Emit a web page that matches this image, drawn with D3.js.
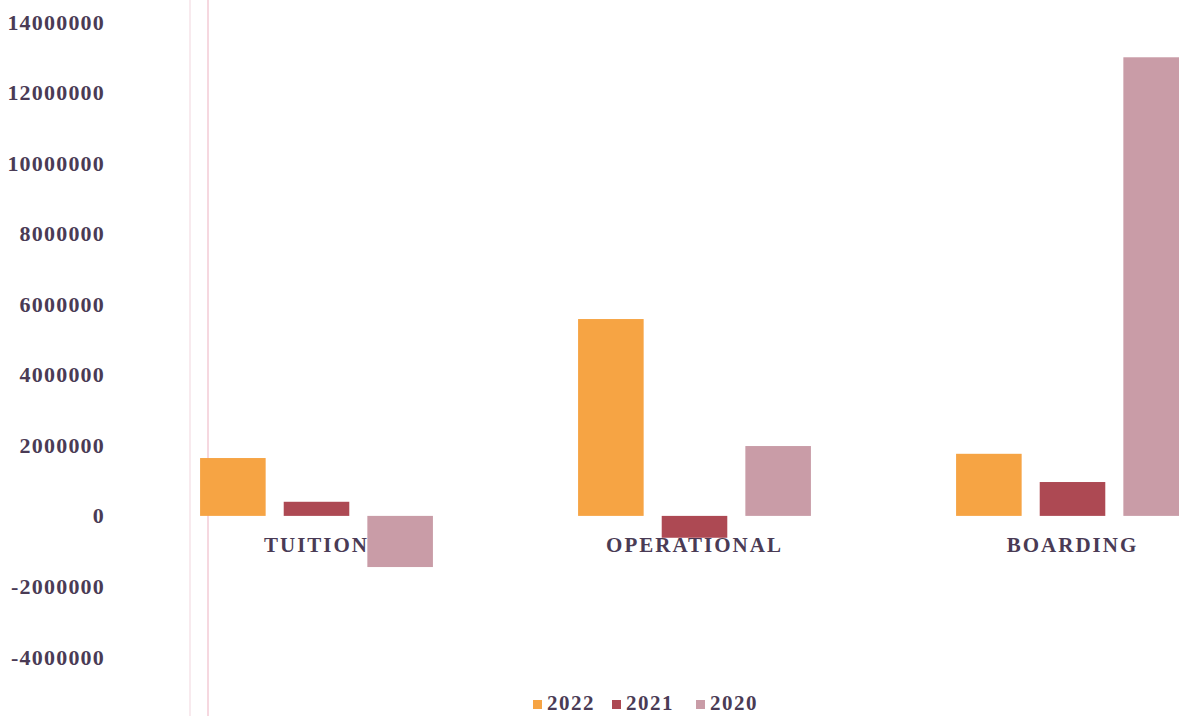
<!DOCTYPE html>
<html>
<head>
<meta charset="utf-8">
<script src="https://cdn.jsdelivr.net/npm/d3@7"></script>
<style>
  html, body { margin: 0; padding: 0; background: #fff; overflow: hidden; }
  svg { display: block; }
  .lbl { font-family: "Liberation Serif", "DejaVu Serif", serif; font-weight: bold; fill: #4a3b55; }
</style>
</head>
<body>
<svg width="1179" height="716"></svg>
<script>
"use strict";

// categories and series
const categories = ["TUITION", "OPERATIONAL", "BOARDING"];
const seriesNames = ["2022", "2021", "2020"];
const values2022 = [1640000, 5580000, 1760000];
const values2021 = [400000, -620000, 960000];
const values2020 = [-1450000, 1980000, 13000000];
const yTicks = [-4000000, -2000000, 0, 2000000, 4000000, 6000000, 8000000, 10000000, 12000000, 14000000];
const colors = ["#f6a444", "#ad4953", "#c99ca7"];

const seriesValues = [values2022, values2021, values2020];
const rows = categories.map((c, i) => ({
  cat: c,
  vals: seriesNames.map((s, j) => ({ key: s, value: seriesValues[j][i], color: colors[j] }))
}));

const svg = d3.select("svg");

// y: 0 at 516, 2M per ~70.57px
const y = d3.scaleLinear().domain([-4000000, 14000000]).range([657, 22]);

// x: plot runs past the right edge (picture is cropped)
const x0 = d3.scaleBand()
  .domain(categories)
  .range([127.5, 1261.5])
  .paddingInner(0.384)
  .paddingOuter(0.192);

const x1 = d3.scaleBand()
  .domain(seriesNames)
  .range([0, x0.bandwidth()])
  .paddingInner(0.216);

// faint vertical lines at the left of the plot
svg.selectAll("line.vline")
  .data([190, 208])
  .enter()
  .append("line")
  .attr("class", "vline")
  .attr("x1", (d) => d).attr("x2", (d) => d)
  .attr("y1", 0).attr("y2", 716)
  .style("stroke", (d, i) => (i === 0 ? "#f6e3e8" : "#f3cbd6"))
  .style("stroke-width", 1.5);

// y axis labels (plain hyphen for negatives, like the original)
const yAxis = svg.append("g")
  .attr("transform", "translate(105,0)")
  .call(d3.axisLeft(y).tickValues(yTicks).tickSize(0).tickPadding(0).tickFormat((d) => String(d)));
yAxis.select(".domain").remove();
yAxis.selectAll("text")
  .attr("class", "lbl")
  .style("font-size", "22px")
  .style("letter-spacing", "1.2px");

// bars
const groups = svg.selectAll("g.grp")
  .data(rows)
  .enter()
  .append("g")
  .attr("class", "grp")
  .attr("transform", (d) => `translate(${x0(d.cat)},0)`);

groups.selectAll("rect")
  .data((d) => d.vals)
  .enter()
  .append("rect")
  .attr("x", (d) => x1(d.key))
  .attr("width", x1.bandwidth())
  .attr("y", (d) => y(Math.max(0, d.value)))
  .attr("height", (d) => Math.abs(y(d.value) - y(0)))
  .style("fill", (d) => d.color);

// category labels just under the zero line
svg.selectAll("text.cat")
  .data(categories)
  .enter()
  .append("text")
  .attr("class", "lbl cat")
  .attr("x", (d) => x0(d) + x0.bandwidth() / 2)
  .attr("y", y(0) + 36)
  .attr("text-anchor", "middle")
  .style("font-size", "21px")
  .style("letter-spacing", "2px")
  .text((d) => d);

// legend
const legendX = [533, 612, 696];
const legend = svg.selectAll("g.leg")
  .data(seriesNames)
  .enter()
  .append("g")
  .attr("class", "leg")
  .attr("transform", (d, i) => `translate(${legendX[i]},704)`);

legend.append("rect")
  .attr("x", 0).attr("y", -4)
  .attr("width", 9).attr("height", 9)
  .style("fill", (d, i) => colors[i]);

legend.append("text")
  .attr("class", "lbl")
  .attr("x", 14)
  .attr("y", 6)
  .style("font-size", "21px")
  .style("letter-spacing", "1.5px")
  .text((d) => d);
</script>
</body>
</html>
